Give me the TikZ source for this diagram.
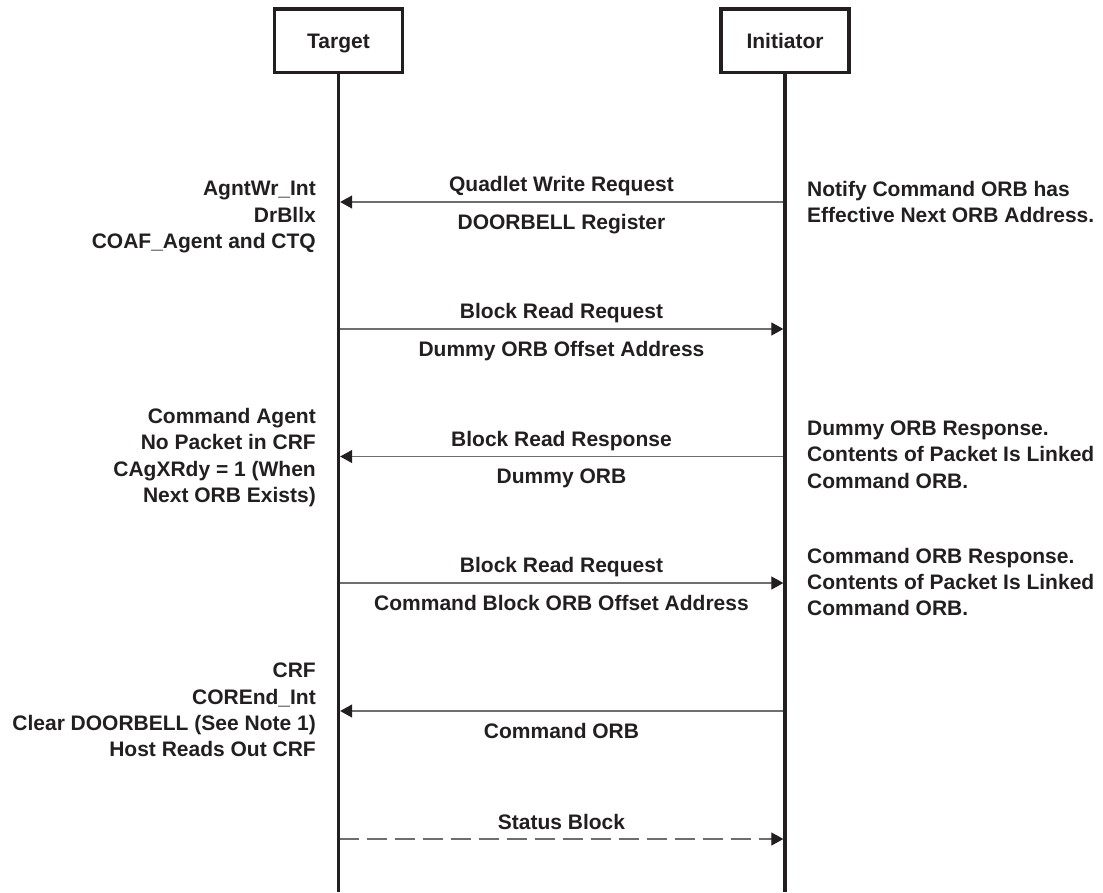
\documentclass[tikz,border=0pt]{standalone}
\usepackage{fontspec}
\setmainfont{Liberation Sans}
\usetikzlibrary{arrows.meta}
\definecolor{ink}{HTML}{231F20}
\definecolor{msg}{HTML}{6D6E71}
\begin{document}
\begin{tikzpicture}[x=1pt,y=-1pt,
  every node/.style={font=\fontsize{21}{26.3}\selectfont\bfseries, text=ink},
  actor/.style={draw=ink, line width=3.3pt, minimum width=128pt, minimum height=63.5pt, inner sep=0pt, text height=15pt, text depth=0pt},
  life/.style={draw=ink, line width=3.3pt},
  msgline/.style={draw=msg, line width=1.1pt, -{Triangle[length=12pt,width=13pt,color=ink]}, shorten >=1.65pt},
  lbl/.style={inner sep=0pt, anchor=base},
  leftnote/.style={inner sep=0pt, anchor=east, align=right},
  rightnote/.style={inner sep=0pt, anchor=west, align=left},
]
\useasboundingbox (0,0) rectangle (1103,892);

% actors
\node[actor] (target) at (338.5,40.7) {Target};
\node[actor] (initiator) at (785,40.7) {Initiator};
\coordinate (tend) at (338.5,892);
\coordinate (iend) at (785,892);

% message end points
\coordinate (t1) at (338.5,202);  \coordinate (i1) at (785,202);
\coordinate (t2) at (338.5,329);  \coordinate (i2) at (785,329);
\coordinate (t3) at (338.5,456.5);\coordinate (i3) at (785,456.5);
\coordinate (t4) at (338.5,583);  \coordinate (i4) at (785,583);
\coordinate (t5) at (338.5,711);  \coordinate (i5) at (785,711);
\coordinate (t6) at (338.5,839);  \coordinate (i6) at (785,839);

% messages
\draw[msgline] (i1) -- (t1);
\draw[msgline] (t2) -- (i2);
\draw[msgline] (i3) -- (t3);
\draw[msgline] (t4) -- (i4);
\draw[msgline] (i5) -- (t5);
\draw[msgline, dash pattern=on 20pt off 8pt] (t6) -- (i6);

% lifelines
\draw[life] (target.south) -- (tend);
\draw[life] (initiator.south) -- (iend);

% message labels
\node[lbl] (m1a) at (561.5,191.7) {Quadlet Write Request};
\node[lbl] (m1b) at (561.5,229) {DOORBELL Register};
\node[lbl] (m2a) at (561.5,318.7) {Block Read Request};
\node[lbl] (m2b) at (561.5,356) {Dummy ORB Offset Address};
\node[lbl] (m3a) at (561.5,446.3) {Block Read Response};
\node[lbl] (m3b) at (561.5,483.5) {Dummy ORB};
\node[lbl] (m4a) at (561.5,572.7) {Block Read Request};
\node[lbl] (m4b) at (561.5,610) {Command Block ORB Offset Address};
\node[lbl] (m5b) at (561.5,738) {Command ORB};
\node[lbl] (m6a) at (561.5,829) {Status Block};

% left notes
\node[leftnote] (n1) at (316,217) {AgntWr\_Int\\DrBllx\\COAF\_Agent and CTQ};
\node[leftnote] (n2) at (316,457.7) {Command Agent\\No Packet in CRF\\CAgXRdy = 1 (When\\Next ORB Exists)};
\node[leftnote] (n3) at (316,710) {CRF\\COREnd\_Int\\Clear DOORBELL (See Note 1)\\Host Reads Out CRF};

% right notes
\node[rightnote] (r1) at (807,202) {Notify Command ORB has\\Effective Next ORB Address.};
\node[rightnote] (r2) at (807,454.5) {Dummy ORB Response.\\Contents of Packet Is Linked\\Command ORB.};
\node[rightnote] (r3) at (807,582) {Command ORB Response.\\Contents of Packet Is Linked\\Command ORB.};
\end{tikzpicture}
\end{document}
